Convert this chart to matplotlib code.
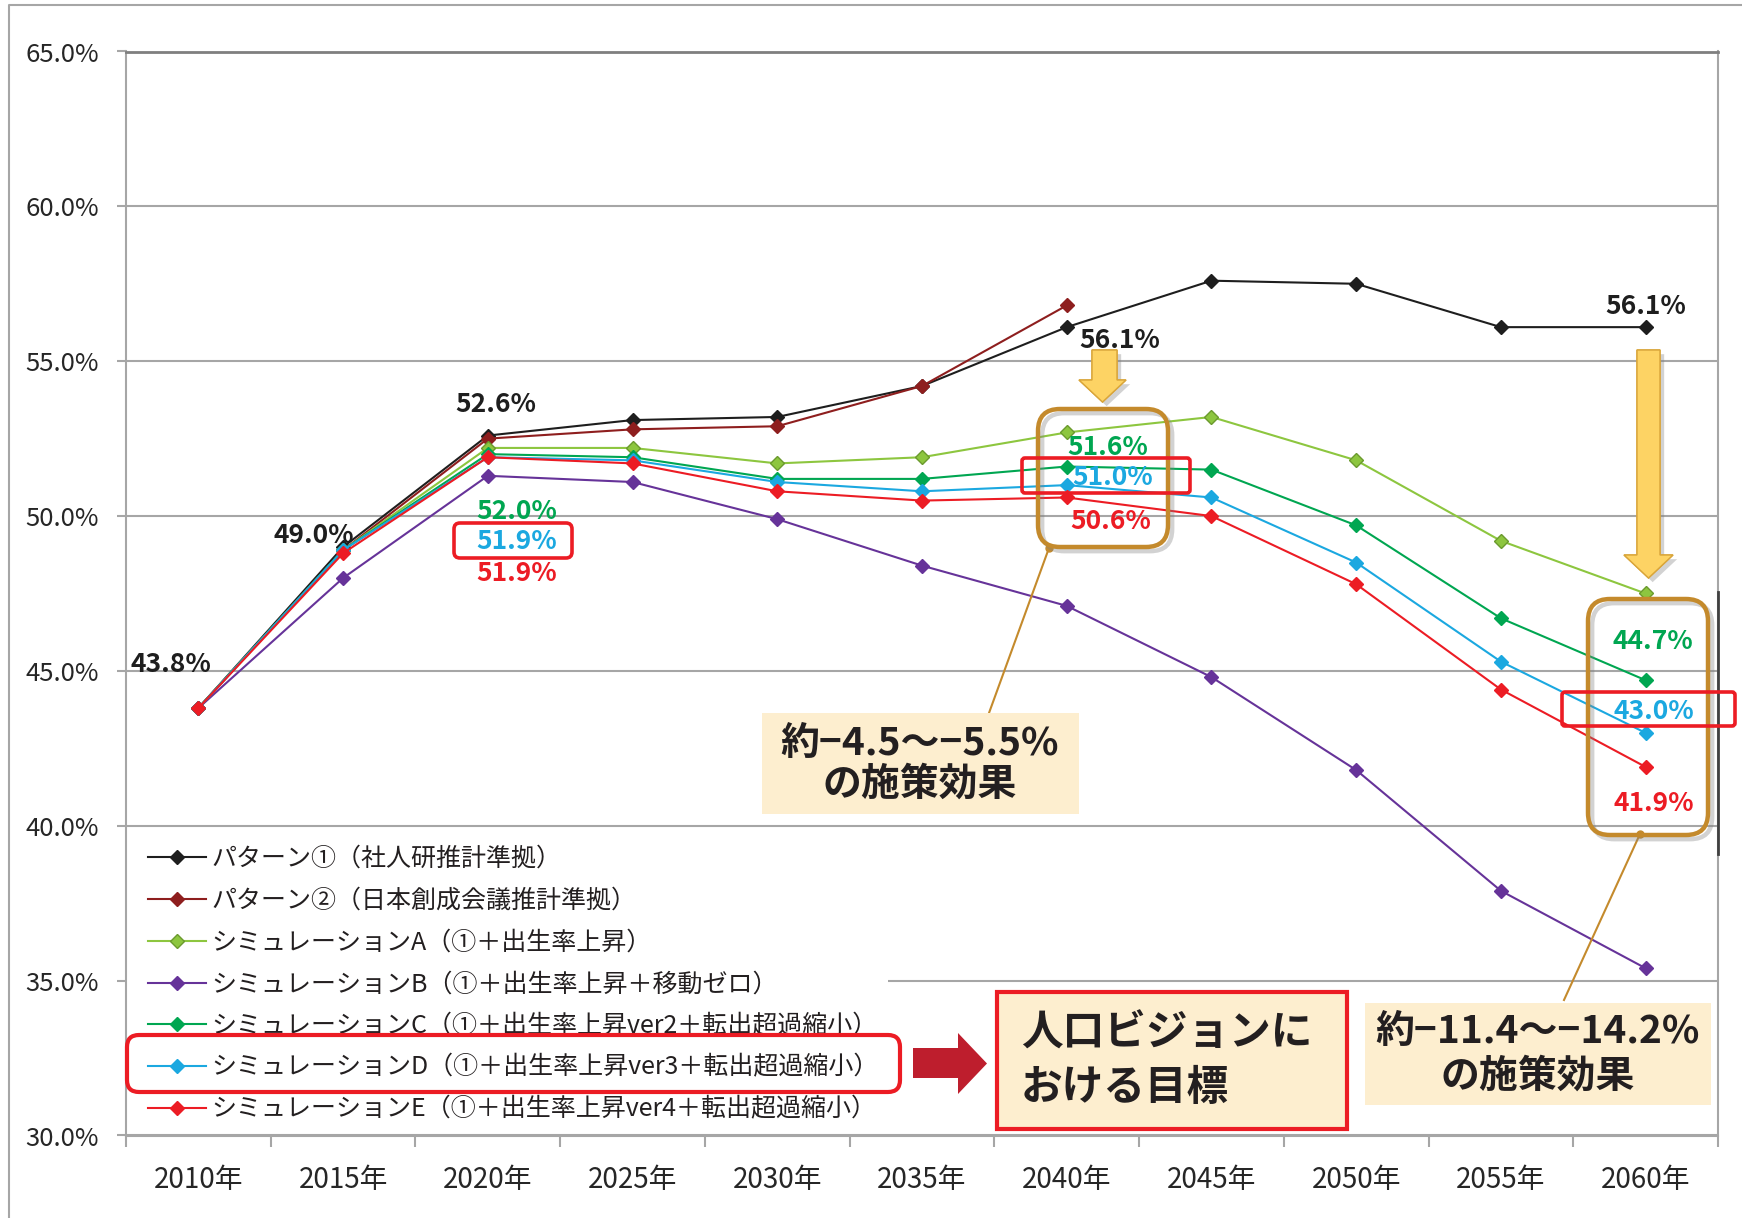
import numpy as np
import matplotlib
matplotlib.use('Agg')
import matplotlib.pyplot as plt
import matplotlib.patheffects as pe
from matplotlib.patches import FancyBboxPatch, Rectangle, Polygon
from matplotlib.lines import Line2D
from matplotlib.transforms import IdentityTransform

plt.rcParams['font.family'] = ['Noto Sans CJK JP', 'DejaVu Sans']

years = ['2010年', '2015年', '2020年', '2025年', '2030年', '2035年',
         '2040年', '2045年', '2050年', '2055年', '2060年']

pattern1 = [43.8, 49.0, 52.6, 53.1, 53.2, 54.2, 56.1, 57.6, 57.5, 56.1, 56.1]
pattern2 = [43.8, 48.9, 52.5, 52.8, 52.9, 54.2, 56.8,
            np.nan, np.nan, np.nan, np.nan]
sim_a = [43.8, 48.9, 52.2, 52.2, 51.7, 51.9, 52.7, 53.2, 51.8, 49.2, 47.5]
sim_b = [43.8, 48.0, 51.3, 51.1, 49.9, 48.4, 47.1, 44.8, 41.8, 37.9, 35.4]
sim_c = [43.8, 48.9, 52.0, 51.9, 51.2, 51.2, 51.6, 51.5, 49.7, 46.7, 44.7]
sim_d = [43.8, 48.9, 51.9, 51.8, 51.1, 50.8, 51.0, 50.6, 48.5, 45.3, 43.0]
sim_e = [43.8, 48.8, 51.9, 51.7, 50.8, 50.5, 50.6, 50.0, 47.8, 44.4, 41.9]

names = ['パターン①（社人研推計準拠）',
         'パターン②（日本創成会議推計準拠）',
         'シミュレーションA（①＋出生率上昇）',
         'シミュレーションB（①＋出生率上昇＋移動ゼロ）',
         'シミュレーションC（①＋出生率上昇ver2＋転出超過縮小）',
         'シミュレーションD（①＋出生率上昇ver3＋転出超過縮小）',
         'シミュレーションE（①＋出生率上昇ver4＋転出超過縮小）']

BLACK = '#1e1e1e'
DRED = '#8e1e1e'
LGREEN = '#8dc63f'
PURPLE = '#663399'
GREEN = '#00a651'
BLUE = '#1ba8e0'
RED = '#ec1c24'
ORANGE = '#c48a2c'
CREAM = '#fdeecf'

series = [pattern1, pattern2, sim_a, sim_b, sim_c, sim_d, sim_e]
colors = [BLACK, DRED, LGREEN, PURPLE, GREEN, BLUE, RED]
edges = [BLACK, DRED, '#6b9a2e', PURPLE, GREEN, BLUE, RED]

# point labels: (series, year index, colour, offset in points)
labels = [
    (pattern1, 0, BLACK, (-19.6, 31.7)),
    (pattern1, 1, BLACK, (-21, 8.3)),
    (pattern1, 2, BLACK, (5.8, 22)),
    (sim_c, 2, GREEN, (21, -41.4)),
    (sim_d, 2, BLUE, (21, -60.5)),
    (sim_e, 2, RED, (21, -84)),
    (pattern1, 6, BLACK, (38.3, -9.4)),
    (pattern1, 10, BLACK, (0, 15.1)),
    (sim_c, 6, GREEN, (29.7, 13.7)),
    (sim_d, 6, BLUE, (33.4, 5.8)),
    (sim_e, 6, RED, (32, -17.6)),
    (sim_c, 10, GREEN, (5.2, 27.9)),
    (sim_d, 10, BLUE, (6, 15.7)),
    (sim_e, 10, RED, (6, -26.4)),
]

W, H = 1742, 1218
fig = plt.figure(figsize=(W / 100, H / 100), dpi=100)
fig.patch.set_facecolor('white')
ax = fig.add_axes([126 / W, 1 - 1135.5 / H, (1718 - 126) / W, (1135.5 - 51.5) / H])
px = IdentityTransform()


def flip(pts):
    return [(x, H - y) for x, y in pts]


x = np.arange(len(years))
for vals, name, c, ec in zip(series, names, colors, edges):
    ax.plot(x, vals, color=c, lw=1.5, marker='D', ms=7, mfc=c, mec=ec,
            mew=1, label=name, zorder=3)

for vals, i, c, off in labels:
    ax.annotate(f'{vals[i]:.1f}%', xy=(i, vals[i]), xytext=off,
                textcoords='offset points', ha='center', va='center',
                fontsize=19, fontweight='bold', color=c, zorder=4)

ax.set_xlim(-0.5, 10.5)
ax.set_ylim(30, 65)
ax.set_yticks(np.arange(30, 66, 5))
ax.yaxis.set_major_formatter(lambda v, p: f'{v:.1f}%')
ax.set_xticks(x)
ax.set_xticklabels(years)
ax.set_xticks(np.arange(-0.5, 11, 1), minor=True)
ax.tick_params(axis='x', which='major', length=0, pad=21, labelsize=20,
               labelcolor='#262626')
ax.tick_params(axis='x', which='minor', length=8, width=1.5, color='#a6a6a6')
ax.tick_params(axis='y', length=6.5, width=1.5, color='#a6a6a6', pad=13,
               labelsize=18.5, labelcolor='#262626')
ax.grid(axis='y', color='#a6a6a6', lw=1.5)
ax.set_axisbelow(True)
for side in ['left', 'bottom', 'right']:
    ax.spines[side].set_color('#a6a6a6')
    ax.spines[side].set_linewidth(1.5)
ax.spines['top'].set_color('#7f7f7f')
ax.spines['top'].set_linewidth(2)

# white panel behind the legend
ax.add_patch(Rectangle((127, H - 1132), 761, 302, transform=px,
                       facecolor='white', edgecolor='none', zorder=1))
leg = ax.legend(loc='upper left', bbox_to_anchor=(148, H - 846),
                bbox_transform=px, frameon=False, borderpad=0,
                borderaxespad=0, fontsize=18, labelspacing=0.63,
                handlelength=2.3, handletextpad=0.25, labelcolor='#231f20')
leg.set_zorder(5)

# outer frame and dark edge on the right
fig.add_artist(Line2D([9, 9, W], [0, H - 5, H - 5], transform=px,
                      color='#a6a6a6', lw=1.5))
fig.add_artist(Line2D([1718, 1718], [H - 592, H - 854], transform=px,
                      color='#404040', lw=2))


def rbox(x0, y0, x1, y1, ec, lw, r, fc='none', z=6, effects=None):
    p = FancyBboxPatch((x0, H - y1), x1 - x0, y1 - y0,
                       boxstyle=f'round,pad=0,rounding_size={r}',
                       transform=px, facecolor=fc, edgecolor=ec, lw=lw,
                       zorder=z)
    if effects:
        p.set_path_effects(effects)
    fig.add_artist(p)


glow = [pe.SimpleLineShadow(offset=(3, -3), shadow_color='gray', alpha=0.35),
        pe.Normal()]

# orange highlight boxes with callout lines
rbox(1038, 409, 1168, 547, ORANGE, 3.2, 22, effects=glow)
rbox(1588, 599, 1708, 835, ORANGE, 3.2, 22, effects=glow)
for (xa, ya), (xb, yb) in [((1049, 548), (989, 713)),
                           ((1640, 834), (1564, 1000))]:
    fig.add_artist(Line2D([xa, xb], [H - ya, H - yb], transform=px,
                          color=ORANGE, lw=1.5))
    fig.add_artist(Line2D([xa], [H - ya], transform=px, color=ORANGE,
                          marker='o', ms=5, lw=0))

# red outlines around the target values
rbox(127, 1035, 900, 1092, RED, 3, 12)
rbox(454, 523, 572, 558, RED, 2.6, 6)
rbox(1022, 458, 1190, 493, RED, 2.6, 3)
rbox(1562, 692, 1735, 726, RED, 2.6, 3)

# yellow arrows
shadow = [pe.withSimplePatchShadow(offset=(3, -3), shadow_rgbFace='gray',
                                   alpha=0.35), pe.Normal()]
for sx0, sx1, top, neck, hx0, hx1, tip in [(1092, 1117, 350, 380, 1079, 1126, 402),
                                           (1637, 1660, 350, 555, 1624, 1673, 578)]:
    pts = [(sx0, top), (sx1, top), (sx1, neck), (hx1, neck),
           ((hx0 + hx1) / 2, tip), (hx0, neck), (sx0, neck)]
    arr = Polygon(flip(pts), closed=True, transform=px, facecolor='#fdd364',
                  edgecolor='#d9a53a', lw=1, zorder=7)
    arr.set_path_effects(shadow)
    fig.add_artist(arr)

# red arrow pointing to the target box
fig.add_artist(Polygon(flip([(913, 1048), (958, 1048), (958, 1033),
                             (987, 1063.5), (958, 1094), (958, 1078),
                             (913, 1078)]),
                       closed=True, transform=px, facecolor='#be1e2d',
                       edgecolor='none', zorder=6))

# note boxes
fig.add_artist(Rectangle((997, H - 1129), 350, 137, transform=px,
                         facecolor=CREAM, edgecolor=RED, lw=3, zorder=6))
fig.add_artist(Rectangle((1365, H - 1105), 346, 102, transform=px,
                         facecolor=CREAM, edgecolor='none', zorder=6))
fig.add_artist(Rectangle((762, H - 814), 317, 101, transform=px,
                         facecolor=CREAM, edgecolor='none', zorder=6))

txt = dict(transform=px, fontweight='bold', color='#231f20', va='center',
           zorder=8)
fig.text(1021, H - 1034, '人口ビジョンに', fontsize=30, ha='left', **txt)
fig.text(1021, H - 1088, 'おける目標', fontsize=30, ha='left', **txt)
fig.text(1538, H - 1032, '約−11.4～−14.2%', fontsize=28, ha='center', **txt)
fig.text(1538, H - 1076, 'の施策効果', fontsize=28, ha='center', **txt)
fig.text(920, H - 744, '約−4.5～−5.5%', fontsize=28, ha='center', **txt)
fig.text(920, H - 784, 'の施策効果', fontsize=28, ha='center', **txt)

fig.savefig('out.png', dpi=100)
